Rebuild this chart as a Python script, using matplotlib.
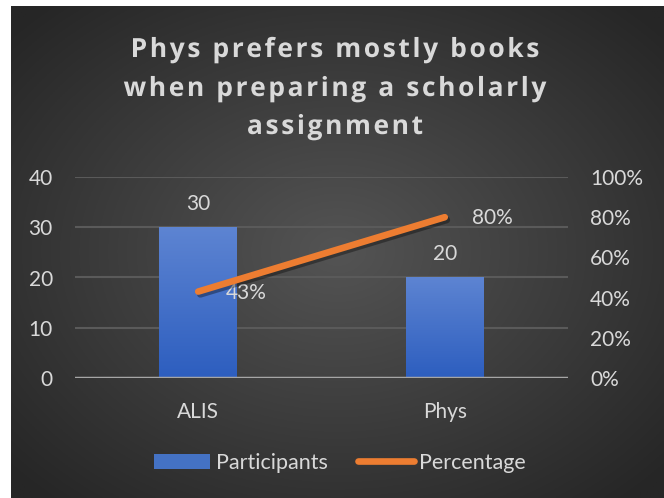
import numpy as np
import matplotlib.pyplot as plt
from matplotlib import patheffects as pe
from matplotlib.lines import Line2D
from matplotlib.patches import Patch, PathPatch
from matplotlib.font_manager import FontProperties, findfont, get_font
from matplotlib.textpath import TextPath
from matplotlib.path import Path
from matplotlib.transforms import Affine2D

categories = ["ALIS", "Phys"]
participants = [30, 20]
percentage = [0.43, 0.80]
pct_labels = ["43%", "80%"]
title_lines = ["Phys prefers mostly books", "when preparing a scholarly", "assignment"]

plt.rcParams["font.family"] = ["Lato", "DejaVu Sans"]
txt = "#d9d9d9"
W, H = 664, 498

fig = plt.figure(figsize=(W / 100, H / 100), dpi=100)
fig.patch.set_facecolor("white")

# radial gradient background of the chart area
bg = fig.add_axes([11 / W, 0, 653 / W, 492 / H], zorder=-10)
yy, xx = np.mgrid[-1:1:300j, -1:1:400j]
r = np.sqrt(xx ** 2 + yy ** 2)
shade = np.clip(1 - r / 1.35, 0, 1)
img = np.zeros((300, 400, 3))
for i in range(3):
    img[..., i] = (0x26 + (0x54 - 0x26) * shade) / 255
bg.imshow(img, aspect="auto", extent=[0, 1, 0, 1])
bg.set_axis_off()


def spaced_text(lines, cx, baselines, fs, spacing):
    # title with letter spacing, drawn as glyph paths in pixel coords
    fp = FontProperties(family="Open Sans", weight="bold")
    font = get_font(findfont(fp))
    px = fs * 100 / 72
    for line, base in zip(lines, baselines):
        font.set_size(px, 72)  # TextPath resizes the shared font object
        xs, pos = [], 0.0
        for c in line:
            xs.append(pos)
            pos += font.load_char(ord(c)).linearHoriAdvance / 65536 + spacing
        total = pos - spacing
        paths = [TextPath((x0, 0), c, size=px, prop=fp) for x0, c in zip(xs, line) if c != " "]
        path = Path.make_compound_path(*paths)
        tr = Affine2D().translate(cx - total / 2, H - base)
        fig.add_artist(PathPatch(path, transform=tr, facecolor=txt, edgecolor="none"))


spaced_text(title_lines, 335, [57, 96, 134], 19, 2.6)

ax = fig.add_axes([75 / W, 1 - 378 / H, 493 / W, 201 / H])
ax.set_facecolor("none")
x = np.arange(len(categories))
bars = ax.bar(x, participants, width=0.316, color="#4472c4", zorder=3)

# vertical gradient on bars
grad = np.linspace(0, 1, 100).reshape(-1, 1)
top = np.array([0x5d, 0x84, 0xd2]) / 255
bot = np.array([0x2d, 0x5e, 0xbf]) / 255
gimg = bot + (top - bot) * grad[..., None]
for b in bars:
    x0, y0 = b.get_x(), b.get_y()
    im = ax.imshow(gimg, aspect="auto", origin="lower",
                   extent=[x0, x0 + b.get_width(), y0, y0 + b.get_height()],
                   zorder=3.5)
    im.set_clip_path(b)
    ax.text(b.get_x() + b.get_width() / 2, b.get_height() + 4.7, str(int(b.get_height())),
            ha="center", va="center", color=txt, fontsize=15)

ax.set_xlim(-0.5, 1.5)
ax.set_ylim(0, 40)
ax.set_yticks([0, 10, 20, 30, 40])
ax.yaxis.grid(True, color="#5a5a5a", linewidth=1.5, zorder=0)
ax.set_axisbelow(True)
ax.axhline(0, color="#a6a6a6", linewidth=2.5, zorder=4)
for s in ax.spines.values():
    s.set_visible(False)
ax.tick_params(axis="both", length=0, colors=txt, labelsize=15)
ax.tick_params(axis="y", pad=16)
ax.tick_params(axis="x", pad=17)
ax.set_xticks(x)
ax.set_xticklabels(categories)

ax2 = ax.twinx()
ax2.set_ylim(0, 1)
ax2.set_yticks(np.linspace(0, 1, 6))
ax2.set_yticklabels([f"{int(v * 100)}%" for v in np.linspace(0, 1, 6)])
for s in ax2.spines.values():
    s.set_visible(False)
ax2.tick_params(axis="y", length=0, colors=txt, labelsize=15, pad=16)
ax2.plot(x, percentage, color="#ed7d31", linewidth=4.8, solid_capstyle="round", zorder=5,
         path_effects=[pe.SimpleLineShadow(offset=(1.5, -2), alpha=0.35), pe.Normal()])
for xi, p, lab in zip(x, percentage, pct_labels):
    ax2.text(xi + 0.11, p - 0.005, lab, ha="left", va="center", color=txt, fontsize=15)

handles = [Patch(facecolor="#4472c4", edgecolor="none"),
           Line2D([0], [0], color="#ed7d31", linewidth=4.8, solid_capstyle="round")]
fig.legend(handles, ["Participants", "Percentage"], loc="center", bbox_to_anchor=(340 / W, 1 - 463 / H),
           ncol=2, frameon=False, fontsize=15.5, labelcolor=txt, handlelength=2.6,
           handletextpad=0.25, columnspacing=1.4)

fig.savefig("out.png", dpi=100, facecolor="white")
